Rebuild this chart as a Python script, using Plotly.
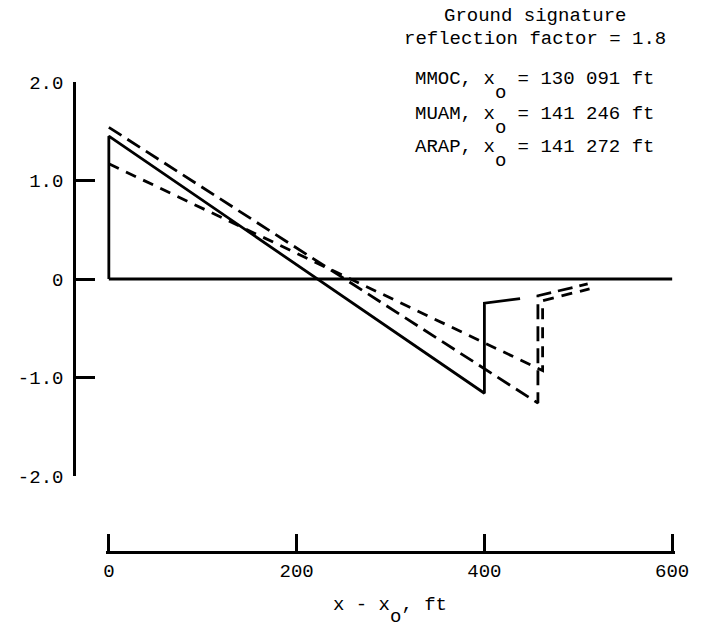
import plotly.graph_objects as go

# Ground-signature pressure traces, x - x_o in ft vs. overpressure
baseline_x = [0, 600]
baseline_y = [0, 0]

mmoc_x = [0, 0, 400, 400, 438]
mmoc_y = [0, 1.45, -1.16, -0.245, -0.20]

muam_x = [0, 457, 457, 510]
muam_y = [1.54, -1.26, -0.17, -0.05]

arap_x = [0, 462, 462, 512]
arap_y = [1.17, -0.93, -0.22, -0.10]

x_ticks = [0, 200, 400, 600]
y_ticks = [-2, -1, 0, 1, 2]
y_tick_text = ["-2.0", "-1.0", "0", "1.0", "2.0"]

header_lines = ["Ground signature", "reflection factor = 1.8"]
xo_lines = ["MMOC, x\u00a0\u00a0= 130 091 ft",
            "MUAM, x\u00a0\u00a0= 141 246 ft",
            "ARAP, x\u00a0\u00a0= 141 272 ft"]
x_title = "x - x\u00a0, ft"

FONT = "Liberation Mono, Courier New, monospace"
W, H = 701, 623
X0_PX, X600_PX = 109.0, 675.0
YTOP_PX, YBOT_PX = 82.0, 476.0
XPAD = 3.0
ppu = (X600_PX - X0_PX) / 600.0
# plot-area edges in page pixels
L, T, B = 74.0, 82.0, 552.0
R = X600_PX + XPAD * ppu


def px(x):
    return (x - L) / (R - L)


def py(y):
    return (B - y) / (B - T)


x_dom = [px(X0_PX - XPAD * ppu), 1.0]

fig = go.Figure()
line_w = 2.8
fig.add_trace(go.Scatter(x=baseline_x, y=baseline_y, mode="lines",
                         line=dict(color="black", width=line_w), showlegend=False))
fig.add_trace(go.Scatter(x=mmoc_x, y=mmoc_y, mode="lines", name="MMOC",
                         line=dict(color="black", width=line_w), showlegend=False))
fig.add_trace(go.Scatter(x=muam_x, y=muam_y, mode="lines", name="MUAM",
                         line=dict(color="black", width=line_w, dash="15px,7px"),
                         showlegend=False))
fig.add_trace(go.Scatter(x=arap_x, y=arap_y, mode="lines", name="ARAP",
                         line=dict(color="black", width=line_w, dash="11px,8px"),
                         showlegend=False))

tick_font = dict(family=FONT, size=19, color="black")
fig.update_layout(
    width=W, height=H,
    margin=dict(l=L, r=W - R, t=T, b=H - B, pad=0),
    paper_bgcolor="white", plot_bgcolor="white",
    font=dict(family=FONT, size=19, color="black"),
    xaxis=dict(domain=x_dom, range=[-XPAD, 600 + XPAD], anchor="free", position=0,
               showline=True, linewidth=2.5, linecolor="black",
               ticks="inside", ticklen=17, tickwidth=2.5, tickcolor="black",
               tickvals=x_ticks, ticktext=[str(v) for v in x_ticks],
               tickfont=tick_font, showgrid=False, zeroline=False),
    yaxis=dict(domain=[py(YBOT_PX), py(YTOP_PX)], range=[-2, 2], anchor="free",
               position=0, showline=True, linewidth=2.5, linecolor="black",
               ticks="inside", ticklen=19, tickwidth=2.5, tickcolor="black",
               tickvals=y_ticks, ticktext=y_tick_text, tickfont=tick_font,
               ticklabelstandoff=6, showgrid=False, zeroline=False),
)

ann_font = dict(family=FONT, size=19, color="black")
char_w = 0.6 * 19
cx = 537.0
header_y = [16, 39]
for txt, yy in zip(header_lines, header_y):
    fig.add_annotation(x=px(cx), y=py(yy), xref="paper", yref="paper", text=txt,
                       showarrow=False, font=ann_font, xanchor="center",
                       yanchor="middle")

xo_y = [79, 114, 147]
for txt, yy in zip(xo_lines, xo_y):
    fig.add_annotation(x=px(cx), y=py(yy), xref="paper", yref="paper", text=txt,
                       showarrow=False, font=ann_font, xanchor="center",
                       yanchor="middle")
    left = cx - len(txt) * char_w / 2
    fig.add_annotation(x=px(left + 7.5 * char_w), y=py(yy + 14), xref="paper",
                       yref="paper", text="o", showarrow=False, font=ann_font,
                       xanchor="center", yanchor="middle")

# axis title with dropped subscript
tx, ty = 391.5, 605
fig.add_annotation(x=px(tx), y=py(ty), xref="paper", yref="paper", text=x_title,
                   showarrow=False, font=ann_font, xanchor="center", yanchor="middle")
tleft = tx - len(x_title) * char_w / 2
fig.add_annotation(x=px(tleft + 5.5 * char_w), y=py(ty + 12), xref="paper",
                   yref="paper", text="o", showarrow=False, font=ann_font,
                   xanchor="center", yanchor="middle")

fig.write_html("out.html")
